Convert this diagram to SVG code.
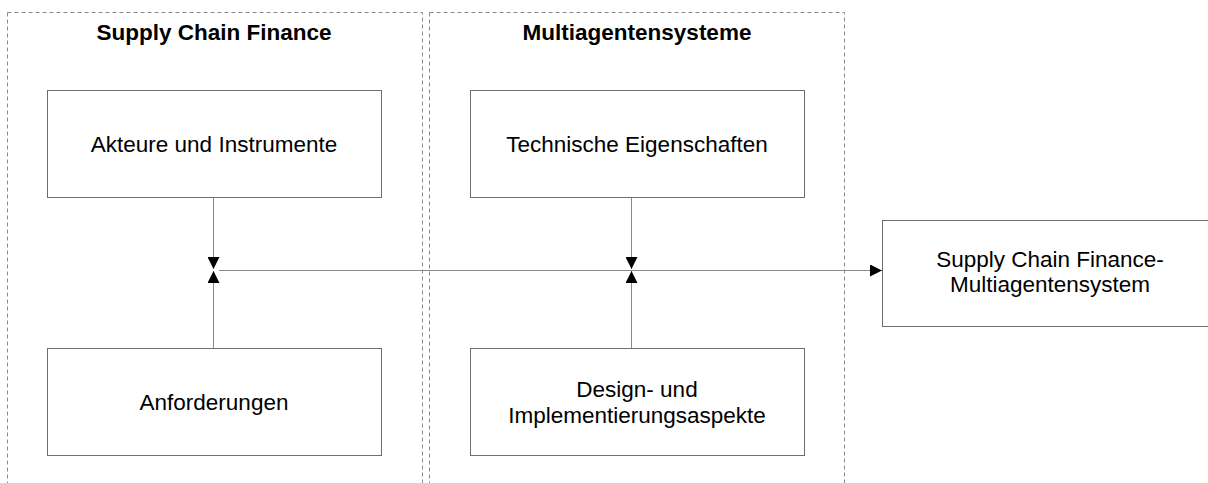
<svg xmlns="http://www.w3.org/2000/svg" width="1208" height="483" viewBox="0 0 1208 483">
<style>
.grp{fill:none;stroke:#8a8a8a;stroke-width:1;stroke-dasharray:4,3}
.box{fill:#fff;stroke:#6e6e6e;stroke-width:1}
.t{font-family:"Liberation Sans",Arial,sans-serif;font-size:22.5px;fill:#000;text-anchor:middle}
.h{font-family:"Liberation Sans",Arial,sans-serif;font-size:22.5px;font-weight:bold;fill:#000;text-anchor:middle}
.c{fill:none;stroke:#8a8a8a;stroke-width:1}
</style>
<defs>
<marker id="ah" viewBox="0 0 10 10" refX="10" refY="5" markerWidth="12" markerHeight="12" markerUnits="userSpaceOnUse" orient="auto">
<path d="M0,0 L10,5 L0,10 Z" fill="#000"/>
</marker>
</defs>
<rect width="1208" height="483" fill="#fff"/>
<g id="group-scf">
<rect class="grp" x="7.5" y="12.5" width="415" height="490"/>
<text class="h" x="214" y="40">Supply Chain Finance</text>
</g>
<g id="group-mas">
<rect class="grp" x="429.5" y="12.5" width="415" height="490"/>
<text class="h" x="637" y="40">Multiagentensysteme</text>
</g>
<g id="connectors">
<line class="c" x1="213.5" y1="197" x2="213.5" y2="269" marker-end="url(#ah)"/>
<line class="c" x1="213.5" y1="348" x2="213.5" y2="271" marker-end="url(#ah)"/>
<line class="c" x1="631.5" y1="197" x2="631.5" y2="269" marker-end="url(#ah)"/>
<line class="c" x1="631.5" y1="348" x2="631.5" y2="271" marker-end="url(#ah)"/>
<line class="c" x1="219" y1="270.5" x2="882" y2="270.5" marker-end="url(#ah)"/>
</g>
<g id="n-akteure">
<rect class="box" x="47.5" y="90.5" width="334" height="107"/>
<text class="t" x="214" y="152">Akteure und Instrumente</text>
</g>
<g id="n-anforderungen">
<rect class="box" x="47.5" y="348.5" width="334" height="107"/>
<text class="t" x="214" y="410">Anforderungen</text>
</g>
<g id="n-technische">
<rect class="box" x="470.5" y="90.5" width="334" height="107"/>
<text class="t" x="637" y="152">Technische Eigenschaften</text>
</g>
<g id="n-design">
<rect class="box" x="470.5" y="348.5" width="334" height="107"/>
<text class="t" x="637" y="397">Design- und</text>
<text class="t" x="637" y="423">Implementierungsaspekte</text>
</g>
<g id="n-result">
<rect class="box" x="882.5" y="220.5" width="334" height="106"/>
<text class="t" x="1050" y="267">Supply Chain Finance-</text>
<text class="t" x="1050" y="292">Multiagentensystem</text>
</g>
</svg>
